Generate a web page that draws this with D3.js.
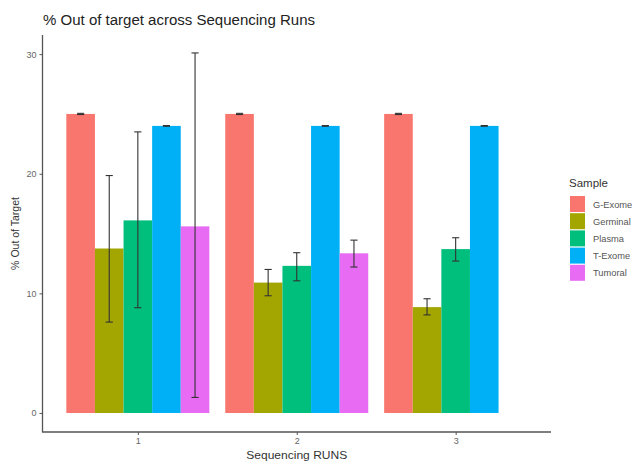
<!DOCTYPE html>
<html><head><meta charset="utf-8">
<script src="https://cdn.jsdelivr.net/npm/d3@7"></script>
<style>body{margin:0;background:#fff;} text{font-family:"Liberation Sans",Arial,sans-serif;}</style>
</head><body>
<svg id="c" width="633" height="463"></svg>
<script>
const runs = ["1", "2", "3"];
const samples = ["G-Exome", "Germinal", "Plasma", "T-Exome", "Tumoral"];
const colors = ["#F8766D", "#A3A500", "#00BF7D", "#00B0F6", "#E76BF3"];
// mean values per sample, in run order 1,2,3
const gExome   = [25.0, 25.0, 25.0];
const germinal = [13.75, 10.9, 8.85];
const plasma   = [16.1, 12.3, 13.7];
const tExome   = [24.0, 24.0, 24.0];
const tumoral  = [15.6, 13.35, null];
// error bar lower / upper bounds
const gExomeLo = [24.95, 24.95, 24.95],  gExomeHi = [25.05, 25.05, 25.05];
const germLo   = [7.6, 9.8, 8.2],        germHi   = [19.85, 12.0, 9.55];
const plasLo   = [8.8, 11.05, 12.7],     plasHi   = [23.5, 13.4, 14.65];
const tExLo    = [23.97, 23.97, 23.97],  tExHi    = [24.03, 24.03, 24.03];
const tumLo    = [1.3, 12.2, null],      tumHi    = [30.1, 14.45, null];
const yTicks = [0, 10, 20, 30];

const means = [gExome, germinal, plasma, tExome, tumoral];
const los = [gExomeLo, germLo, plasLo, tExLo, tumLo];
const his = [gExomeHi, germHi, plasHi, tExHi, tumHi];
const data = [];
samples.forEach((s, i) => runs.forEach((r, j) => {
  if (means[i][j] != null) data.push({run: r, sample: s, v: means[i][j], lo: los[i][j], hi: his[i][j], c: colors[i]});
}));

const svg = d3.select("#c");
const L = 42.5, R = 551, T = 35, B = 432;
const unit = (R - L) / 3.2;
const x0 = d3.scalePoint().domain(runs).range([L + 0.6 * unit, R - 0.6 * unit]);
const x1 = d3.scaleBand().domain(samples).range([-0.45 * unit, 0.45 * unit]);
const y = d3.scaleLinear().domain([-1.59, 31.6]).range([B, T]);

svg.append("g").selectAll("rect").data(data).join("rect")
  .attr("x", d => x0(d.run) + x1(d.sample))
  .attr("width", x1.bandwidth())
  .attr("y", d => y(d.v))
  .attr("height", d => y(0) - y(d.v))
  .attr("fill", d => d.c);

const cap = x1.bandwidth() * 0.125;
const eg = svg.append("g").attr("stroke", "#333").attr("stroke-width", 1.1).attr("fill", "none");
data.forEach(d => {
  const cx = x0(d.run) + x1(d.sample) + x1.bandwidth() / 2;
  eg.append("line").attr("x1", cx).attr("x2", cx).attr("y1", y(d.lo)).attr("y2", y(d.hi));
  eg.append("line").attr("x1", cx - cap).attr("x2", cx + cap).attr("y1", y(d.lo)).attr("y2", y(d.lo));
  eg.append("line").attr("x1", cx - cap).attr("x2", cx + cap).attr("y1", y(d.hi)).attr("y2", y(d.hi));
});

const yAxis = d3.axisLeft(y).tickValues(yTicks).tickSize(3).tickPadding(3);
const gy = svg.append("g").attr("transform", `translate(${L},0)`).call(yAxis);
gy.select(".domain").remove();
gy.selectAll(".tick line").attr("stroke", "#555");
gy.selectAll(".tick text").attr("fill", "#666").style("font-size", "9px");
const xAxis = d3.axisBottom(x0).tickSize(3).tickPadding(3);
const gx = svg.append("g").attr("transform", `translate(0,${B})`).call(xAxis);
gx.select(".domain").remove();
gx.selectAll(".tick line").attr("stroke", "#555");
gx.selectAll(".tick text").attr("fill", "#666").style("font-size", "9px");
svg.append("line").attr("x1", L).attr("x2", L).attr("y1", T).attr("y2", B + 0.5).attr("stroke", "#555").attr("stroke-width", 1.3);
svg.append("line").attr("x1", L).attr("x2", R).attr("y1", B).attr("y2", B).attr("stroke", "#555").attr("stroke-width", 1.3);

svg.append("text").attr("x", 43).attr("y", 25).style("font-size", "14px").attr("fill", "#222")
  .attr("textLength", 272).attr("lengthAdjust", "spacingAndGlyphs")
  .text("% Out of target across Sequencing Runs");
svg.append("text").attr("x", (L + R) / 2).attr("y", 459).attr("text-anchor", "middle")
  .style("font-size", "11px").attr("fill", "#333")
  .attr("textLength", 101).attr("lengthAdjust", "spacingAndGlyphs").text("Sequencing RUNS");
svg.append("text").attr("transform", `translate(19,${(T + B) / 2}) rotate(-90)`).attr("text-anchor", "middle")
  .style("font-size", "10.5px").attr("fill", "#333").text("% Out of Target");

const lg = svg.append("g");
lg.append("text").attr("x", 569).attr("y", 187).style("font-size", "11.5px").attr("fill", "#333").text("Sample");
samples.forEach((s, i) => {
  const yy = 196 + i * 17.2;
  lg.append("rect").attr("x", 570).attr("y", yy).attr("width", 15).attr("height", 16).attr("fill", colors[i]);
  lg.append("text").attr("x", 593).attr("y", yy + 11.5).style("font-size", "9.3px").attr("fill", "#555").text(s);
});
</script>
</body></html>
